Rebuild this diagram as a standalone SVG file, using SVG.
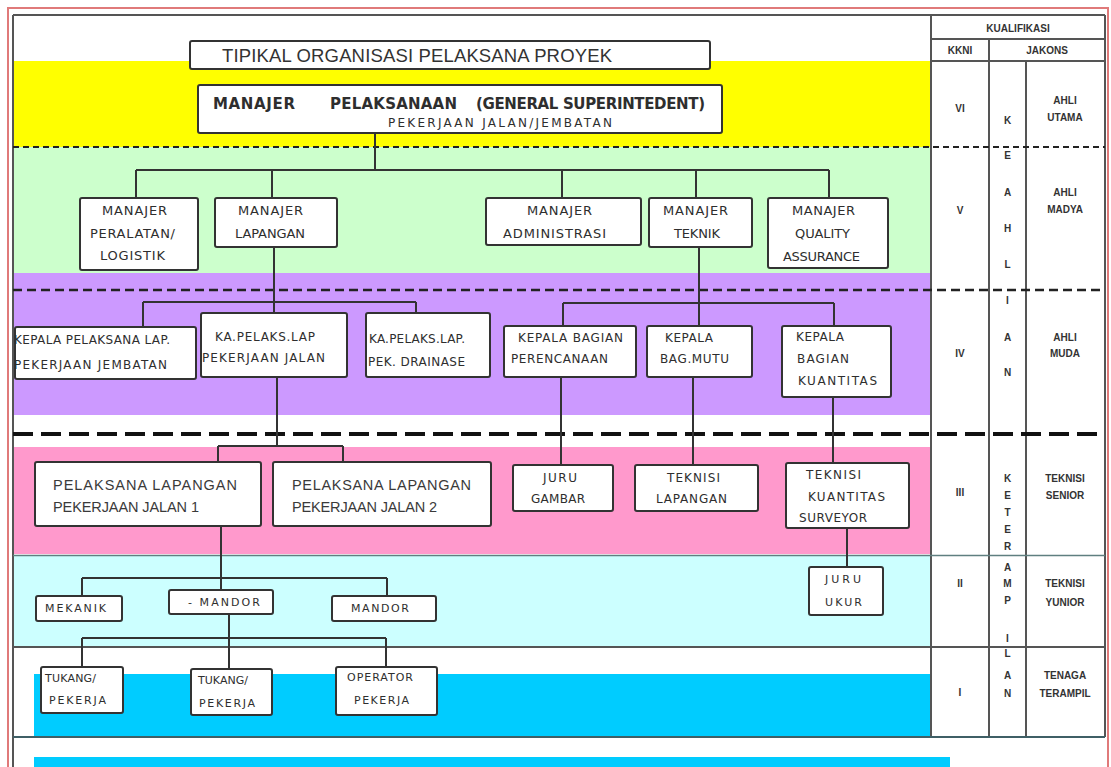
<svg xmlns="http://www.w3.org/2000/svg" width="1111" height="767" viewBox="0 0 1111 767">
<style>
  .box { fill:#ffffff; stroke:#333333; stroke-width:2; }
  .c { font-family:"DejaVu Sans", sans-serif; font-size:12px; fill:#2e2e2e; }
  .c13 { font-family:"DejaVu Sans", sans-serif; font-size:13px; fill:#2e2e2e; }
  .c11 { font-family:"DejaVu Sans", sans-serif; font-size:11px; fill:#2e2e2e; }
  .hd { font-family:"DejaVu Sans", sans-serif; font-size:15px; font-weight:bold; fill:#2e2e2e; }
  .s { font-family:"Liberation Sans", Arial, sans-serif; font-size:14.5px; fill:#3a3a3a; }
  .t { font-family:"Liberation Sans", Arial, sans-serif; font-size:10px; font-weight:bold; fill:#333333; text-anchor:middle; }
  .rule { stroke:#555555; stroke-width:2; fill:none; }
  .conn line { stroke:#333333; stroke-width:2; }
</style>

<!-- level bands -->
<g id="bands">
  <rect x="0" y="0" width="1111" height="767" fill="#ffffff"/>
  <rect x="13" y="61" width="918" height="86" fill="#ffff00"/>
  <rect x="13" y="147" width="918" height="126" fill="#ccffcc"/>
  <rect x="13" y="273" width="918" height="142" fill="#cc99ff"/>
  <rect x="13" y="447" width="918" height="107" fill="#ff99cc"/>
  <rect x="13" y="555" width="918" height="91" fill="#ccffff"/>
  <rect x="34" y="674" width="897" height="63" fill="#00ccff"/>
  <rect x="34" y="757" width="916" height="10" fill="#00ccff"/>
</g>

<!-- frame, level separators and qualification table grid -->
<g id="frame">
  <rect x="8" y="8" width="1100" height="775" fill="none" stroke="#e07a7a" stroke-width="2"/>
  <line class="rule" x1="13" y1="15" x2="1105" y2="15"/>
  <line class="rule" x1="13" y1="15" x2="13" y2="767"/>
  <line class="rule" x1="1105" y1="15" x2="1105" y2="737"/>
  <line class="rule" x1="931" y1="15" x2="931" y2="737"/>
  <line class="rule" x1="931" y1="39" x2="1105" y2="39"/>
  <line class="rule" x1="931" y1="61" x2="1105" y2="61"/>
  <line class="rule" x1="989" y1="39" x2="989" y2="737"/>
  <line class="rule" x1="1026" y1="61" x2="1026" y2="737"/>
  <line x1="13" y1="147" x2="1105" y2="147" stroke="#222222" stroke-width="2" stroke-dasharray="6 4"/>
  <line x1="13" y1="290" x2="1105" y2="290" stroke="#222222" stroke-width="2.5" stroke-dasharray="9 5"/>
  <line x1="13" y1="434" x2="1105" y2="434" stroke="#111111" stroke-width="4" stroke-dasharray="20 8"/>
  <line x1="13" y1="555.5" x2="1105" y2="555.5" stroke="#5f7f80" stroke-width="1.5"/>
  <line class="rule" x1="13" y1="647" x2="1105" y2="647"/>
  <line x1="13" y1="737" x2="1105" y2="737" stroke="#3f5f66" stroke-width="2"/>
</g>

<!-- qualification table labels -->
<g id="table">
  <text class="t" x="1018" y="32">KUALIFIKASI</text>
  <text class="t" x="960" y="54">KKNI</text>
  <text class="t" x="1047" y="54">JAKONS</text>
  <text class="t" x="960" y="112">VI</text>
  <text class="t" x="960" y="214">V</text>
  <text class="t" x="960" y="357">IV</text>
  <text class="t" x="960" y="496">III</text>
  <text class="t" x="960" y="587">II</text>
  <text class="t" x="960" y="696">I</text>
  <text class="t" x="1007.5" y="124">K</text>
  <text class="t" x="1007.5" y="159">E</text>
  <text class="t" x="1007.5" y="196">A</text>
  <text class="t" x="1007.5" y="232">H</text>
  <text class="t" x="1007.5" y="268">L</text>
  <text class="t" x="1007.5" y="304">I</text>
  <text class="t" x="1007.5" y="341">A</text>
  <text class="t" x="1007.5" y="376">N</text>
  <text class="t" x="1007.5" y="482">K</text>
  <text class="t" x="1007.5" y="499">E</text>
  <text class="t" x="1007.5" y="516">T</text>
  <text class="t" x="1007.5" y="533">E</text>
  <text class="t" x="1007.5" y="550">R</text>
  <text class="t" x="1007.5" y="571">A</text>
  <text class="t" x="1007.5" y="587">M</text>
  <text class="t" x="1007.5" y="604">P</text>
  <text class="t" x="1007.5" y="642">I</text>
  <text class="t" x="1007.5" y="657">L</text>
  <text class="t" x="1007.5" y="679">A</text>
  <text class="t" x="1007.5" y="697">N</text>
  <text class="t" x="1065" y="104">AHLI</text>
  <text class="t" x="1065" y="121">UTAMA</text>
  <text class="t" x="1065" y="196">AHLI</text>
  <text class="t" x="1065" y="213">MADYA</text>
  <text class="t" x="1065" y="341">AHLI</text>
  <text class="t" x="1065" y="357">MUDA</text>
  <text class="t" x="1065" y="482">TEKNISI</text>
  <text class="t" x="1065" y="499">SENIOR</text>
  <text class="t" x="1065" y="587">TEKNISI</text>
  <text class="t" x="1065" y="606">YUNIOR</text>
  <text class="t" x="1065" y="679">TENAGA</text>
  <text class="t" x="1065" y="697">TERAMPIL</text>
</g>

<!-- reporting lines -->
<g id="connectors" class="conn">
  <line x1="375" y1="133" x2="375" y2="171"/>
  <line x1="136" y1="170" x2="829" y2="170"/>
  <line x1="136" y1="170" x2="136" y2="198"/>
  <line x1="272" y1="170" x2="272" y2="198"/>
  <line x1="562" y1="170" x2="562" y2="198"/>
  <line x1="696" y1="170" x2="696" y2="198"/>
  <line x1="829" y1="170" x2="829" y2="198"/>

  <line x1="274" y1="247" x2="274" y2="313"/>
  <line x1="143" y1="302" x2="416" y2="302"/>
  <line x1="143" y1="302" x2="143" y2="327"/>
  <line x1="416" y1="302" x2="416" y2="313"/>
  <line x1="699" y1="247" x2="699" y2="326"/>
  <line x1="563" y1="303" x2="834" y2="303"/>
  <line x1="563" y1="303" x2="563" y2="326"/>
  <line x1="834" y1="303" x2="834" y2="326"/>

  <line x1="277" y1="377" x2="277" y2="446"/>
  <line x1="218" y1="446" x2="343" y2="446"/>
  <line x1="218" y1="446" x2="218" y2="462"/>
  <line x1="343" y1="446" x2="343" y2="462"/>
  <line x1="561" y1="377" x2="561" y2="465"/>
  <line x1="693" y1="377" x2="693" y2="465"/>
  <line x1="833" y1="397" x2="833" y2="463"/>

  <line x1="221" y1="526" x2="221" y2="590"/>
  <line x1="82" y1="578" x2="387" y2="578"/>
  <line x1="82" y1="578" x2="82" y2="596"/>
  <line x1="387" y1="578" x2="387" y2="596"/>
  <line x1="847" y1="528" x2="847" y2="567"/>

  <line x1="229" y1="614" x2="229" y2="669"/>
  <line x1="82" y1="638" x2="386" y2="638"/>
  <line x1="82" y1="638" x2="82" y2="667"/>
  <line x1="386" y1="638" x2="386" y2="667"/>
</g>

<g id="n-title">
  <rect class="box" x="190" y="41" width="520" height="28" rx="2"/>
  <text x="222" y="61.5" font-family="Liberation Sans, Arial, sans-serif" font-size="18.5" fill="#333333" textLength="390">TIPIKAL ORGANISASI PELAKSANA PROYEK</text>
</g>

<g id="n-general-superintendent">
  <rect class="box" x="198" y="85" width="524" height="48" rx="2"/>
  <text class="hd" x="213" y="109" textLength="82">MANAJER</text>
  <text class="hd" x="330" y="109" textLength="127">PELAKSANAAN</text>
  <text class="hd" x="476" y="109" font-size="14" textLength="229">(GENERAL SUPERINTEDENT)</text>
  <text class="c" x="388" y="127" textLength="224">PEKERJAAN JALAN/JEMBATAN</text>
</g>

<g id="n-peralatan">
  <rect class="box" x="80" y="198" width="118" height="72" rx="2"/>
  <text class="c13" x="102" y="215" textLength="65">MANAJER</text>
  <text class="c13" x="90" y="238" textLength="85">PERALATAN/</text>
  <text class="c13" x="100" y="260" textLength="65">LOGISTIK</text>
</g>
<g id="n-lapangan">
  <rect class="box" x="215" y="198" width="122" height="49" rx="2"/>
  <text class="c13" x="238" y="215" textLength="65">MANAJER</text>
  <text class="c13" x="235" y="238" textLength="70">LAPANGAN</text>
</g>
<g id="n-administrasi">
  <rect class="box" x="486" y="198" width="155" height="47" rx="2"/>
  <text class="c13" x="527" y="215" textLength="65">MANAJER</text>
  <text class="c13" x="503" y="238" textLength="103">ADMINISTRASI</text>
</g>
<g id="n-teknik">
  <rect class="box" x="649" y="198" width="103" height="49" rx="2"/>
  <text class="c13" x="663" y="215" textLength="65">MANAJER</text>
  <text class="c13" x="674" y="238" textLength="46">TEKNIK</text>
</g>
<g id="n-quality">
  <rect class="box" x="768" y="198" width="120" height="70" rx="2"/>
  <text class="c13" x="792" y="215" textLength="63">MANAJER</text>
  <text class="c13" x="795" y="238" textLength="55">QUALITY</text>
  <text class="c13" x="783" y="261" textLength="77">ASSURANCE</text>
</g>

<g id="n-jembatan">
  <rect class="box" x="15" y="327" width="181" height="52" rx="2"/>
  <text class="c" x="14" y="344" textLength="156">KEPALA PELAKSANA LAP.</text>
  <text class="c" x="14" y="369" textLength="153">PEKERJAAN JEMBATAN</text>
</g>
<g id="n-jalan">
  <rect class="box" x="201" y="313" width="146" height="64" rx="2"/>
  <text class="c" x="215" y="341" textLength="100">KA.PELAKS.LAP</text>
  <text class="c" x="202" y="362" textLength="123">PEKERJAAN JALAN</text>
</g>
<g id="n-drainase">
  <rect class="box" x="366" y="313" width="124" height="64" rx="2"/>
  <text class="c" x="369" y="343" textLength="96">KA.PELAKS.LAP.</text>
  <text class="c" x="368" y="366" textLength="97">PEK. DRAINASE</text>
</g>
<g id="n-perencanaan">
  <rect class="box" x="504" y="326" width="132" height="51" rx="2"/>
  <text class="c" x="518" y="342" textLength="105">KEPALA BAGIAN</text>
  <text class="c" x="511" y="363" textLength="97">PERENCANAAN</text>
</g>
<g id="n-mutu">
  <rect class="box" x="647" y="326" width="105" height="51" rx="2"/>
  <text class="c" x="665" y="342" textLength="48">KEPALA</text>
  <text class="c" x="660" y="363" textLength="69">BAG.MUTU</text>
</g>
<g id="n-kuantitas">
  <rect class="box" x="782" y="326" width="109" height="71" rx="2"/>
  <text class="c" x="796" y="341" textLength="48">KEPALA</text>
  <text class="c" x="797" y="363" textLength="52">BAGIAN</text>
  <text class="c" x="798" y="385" textLength="79">KUANTITAS</text>
</g>

<g id="n-pelaksana-1">
  <rect class="box" x="35" y="462" width="226" height="64" rx="2"/>
  <text class="s" x="53" y="490" textLength="184">PELAKSANA LAPANGAN</text>
  <text class="s" x="53" y="512" textLength="146">PEKERJAAN JALAN 1</text>
</g>
<g id="n-pelaksana-2">
  <rect class="box" x="273" y="462" width="218" height="64" rx="2"/>
  <text class="s" x="292" y="490" textLength="179">PELAKSANA LAPANGAN</text>
  <text class="s" x="292" y="512" textLength="145">PEKERJAAN JALAN 2</text>
</g>
<g id="n-juru-gambar">
  <rect class="box" x="513" y="465" width="100" height="46" rx="2"/>
  <text class="c" x="543" y="482" textLength="34">JURU</text>
  <text class="c" x="531" y="503" textLength="54">GAMBAR</text>
</g>
<g id="n-teknisi-lapangan">
  <rect class="box" x="635" y="465" width="123" height="46" rx="2"/>
  <text class="c" x="667" y="482" textLength="53">TEKNISI</text>
  <text class="c" x="656" y="503" textLength="71">LAPANGAN</text>
</g>
<g id="n-surveyor">
  <rect class="box" x="786" y="463" width="123" height="65" rx="2"/>
  <text class="c" x="806" y="479" textLength="55">TEKNISI</text>
  <text class="c" x="808" y="501" textLength="77">KUANTITAS</text>
  <text class="c" x="799" y="522" textLength="68">SURVEYOR</text>
</g>

<g id="n-mekanik">
  <rect class="box" x="36" y="596" width="86" height="25" rx="2"/>
  <text class="c11" x="45" y="612" textLength="61">MEKANIK</text>
</g>
<g id="n-mandor-1">
  <rect class="box" x="169" y="590" width="104" height="24" rx="2"/>
  <text class="c11" x="188" y="606" textLength="72">- MANDOR</text>
</g>
<g id="n-mandor-2">
  <rect class="box" x="332" y="596" width="104" height="25" rx="2"/>
  <text class="c11" x="351" y="612" textLength="58">MANDOR</text>
</g>
<g id="n-juru-ukur">
  <rect class="box" x="809" y="567" width="74" height="48" rx="2"/>
  <text class="c11" x="825" y="583" textLength="36">JURU</text>
  <text class="c11" x="825" y="606" textLength="37">UKUR</text>
</g>

<g id="n-tukang-1">
  <rect class="box" x="41" y="667" width="82" height="46" rx="2"/>
  <text class="c11" x="45" y="682" textLength="51">TUKANG/</text>
  <text class="c11" x="49" y="704" textLength="57">PEKERJA</text>
</g>
<g id="n-tukang-2">
  <rect class="box" x="191" y="669" width="81" height="46" rx="2"/>
  <text class="c11" x="198" y="684" textLength="50">TUKANG/</text>
  <text class="c11" x="199" y="707" textLength="56">PEKERJA</text>
</g>
<g id="n-operator">
  <rect class="box" x="336" y="667" width="101" height="48" rx="2"/>
  <text class="c11" x="347" y="681" textLength="66">OPERATOR</text>
  <text class="c11" x="354" y="704" textLength="55">PEKERJA</text>
</g>
</svg>
